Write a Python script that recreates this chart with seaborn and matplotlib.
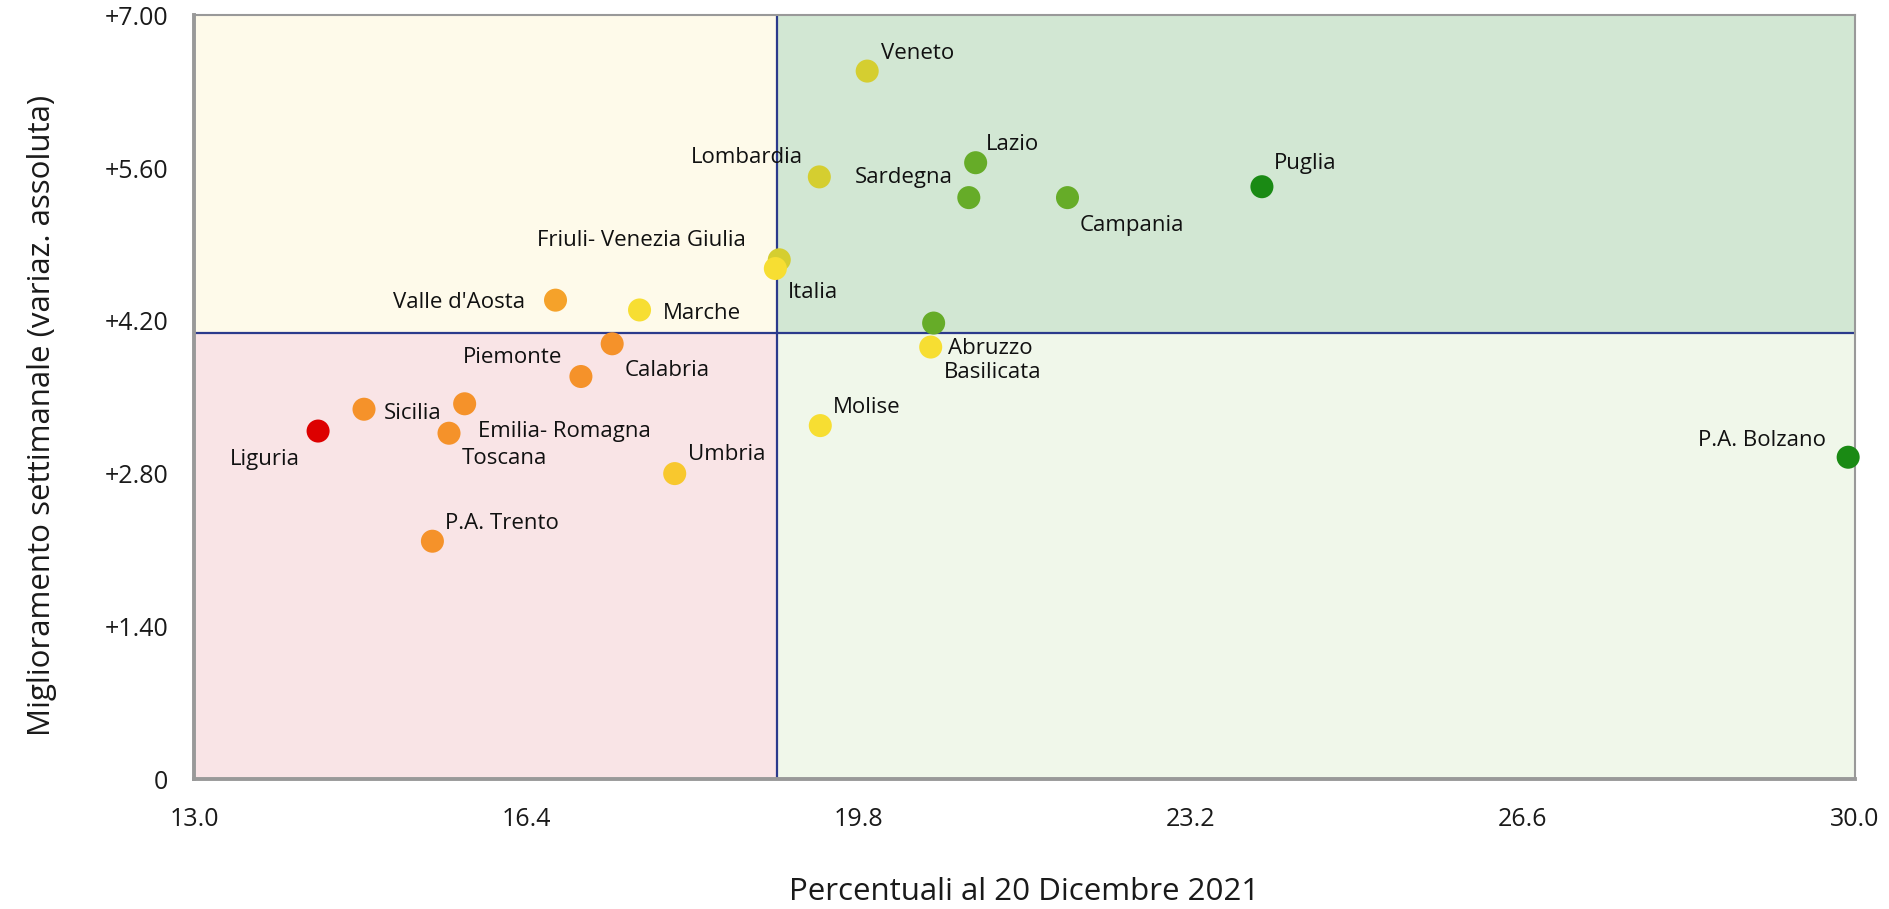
import numpy as np
import pandas as pd
import matplotlib
matplotlib.use('Agg')
import matplotlib.pyplot as plt
import seaborn as sns

# data
regions = ['Veneto', 'Lombardia', 'Lazio', 'Sardegna', 'Campania', 'Puglia',
           'Friuli- Venezia Giulia', 'Italia', "Valle d'Aosta", 'Marche',
           'Abruzzo', 'Basilicata', 'Calabria', 'Piemonte', 'Sicilia',
           'Emilia- Romagna', 'Toscana', 'Liguria', 'Umbria', 'P.A. Trento',
           'Molise', 'P.A. Bolzano']
pct = [19.89, 19.40, 21.00, 20.93, 21.94, 23.93,
       18.99, 18.95, 16.70, 17.56,
       20.57, 20.54, 17.28, 16.96, 14.74,
       15.77, 15.61, 14.27, 17.92, 15.44,
       19.41, 29.93]
improve = [6.49, 5.52, 5.65, 5.33, 5.33, 5.43,
           4.76, 4.68, 4.39, 4.30,
           4.18, 3.96, 3.99, 3.69, 3.39,
           3.44, 3.17, 3.19, 2.80, 2.18,
           3.24, 2.95]
colors = ['#D5CE30', '#D5CE30', '#66AC28', '#66AC28', '#66AC28', '#1A8A14',
          '#D5CE30', '#F7DE32', '#F5A22A', '#F7DE32',
          '#66AC28', '#F7DE32', '#F5922A', '#F5922A', '#F5922A',
          '#F5922A', '#F5922A', '#DD0000', '#F8C82E', '#F5922A',
          '#F7DE32', '#1A8A14']
# label offsets in pixels and alignment
offsets = [(14, 18, 'left'), (-16, 19, 'right'), (10, 18, 'left'), (-16, 20, 'right'),
           (12, -28, 'left'), (12, 23, 'left'), (-33, 19, 'right'), (13, -24, 'left'),
           (-30, -2, 'right'), (23, -4, 'left'), (14, -25, 'left'), (13, -25, 'left'),
           (12, -27, 'left'), (-19, 19, 'right'), (20, -4, 'left'), (13, -28, 'left'),
           (13, -25, 'left'), (-18, -28, 'right'), (13, 19, 'left'), (13, 18, 'left'),
           (13, 18, 'left'), (-22, 17, 'right')]

x_split = 18.97
y_split = 4.09
xticks = [13.0, 16.4, 19.8, 23.2, 26.6, 30.0]
yticks = [0, 1.4, 2.8, 4.2, 5.6, 7.0]
ytick_labels = ['0', '+1.40', '+2.80', '+4.20', '+5.60', '+7.00']

df = pd.DataFrame({'region': regions, 'pct': pct, 'improve': improve})

sns.set_style('white')
plt.rcParams['font.family'] = ['Open Sans', 'DejaVu Sans']

fig, ax = plt.subplots(figsize=(18.89, 9.09), dpi=100)
fig.subplots_adjust(left=0.1027, right=0.982, top=0.983, bottom=0.143)

ax.set_xlim(13, 30)
ax.set_ylim(0, 7)

# quadrant backgrounds
ax.fill_between([13, x_split], 0, y_split, color='#F9E4E6', zorder=0, lw=0)
ax.fill_between([13, x_split], y_split, 7, color='#FEFAEA', zorder=0, lw=0)
ax.fill_between([x_split, 30], y_split, 7, color='#D2E7D3', zorder=0, lw=0)
ax.fill_between([x_split, 30], 0, y_split, color='#F0F7EA', zorder=0, lw=0)
ax.axvline(x_split, color='#2B3A8C', lw=1.6, zorder=1)
ax.axhline(y_split, color='#2B3A8C', lw=1.6, zorder=1)

sns.scatterplot(data=df, x='pct', y='improve', hue='region',
                palette=dict(zip(regions, colors)), s=275, linewidth=0,
                legend=False, ax=ax, zorder=3, clip_on=False)

for name, xv, yv, (dx, dy, ha) in zip(regions, pct, improve, offsets):
    ax.annotate(name, (xv, yv), xytext=(dx, dy), textcoords='offset pixels',
                ha=ha, va='center', fontsize=16, color='#111111', zorder=4)

ax.set_xticks(xticks)
ax.set_xticklabels([f'{t:.1f}' for t in xticks])
ax.set_yticks(yticks)
ax.set_yticklabels(ytick_labels)
ax.tick_params(axis='both', direction='out', length=11.5, width=1.5, color='#999999',
               labelsize=18, labelcolor='#1a1a1a')
ax.tick_params(axis='x', pad=9)
ax.tick_params(axis='y', pad=7)

for side in ['left', 'bottom']:
    ax.spines[side].set_color('#999999')
    ax.spines[side].set_linewidth(2.8)
for side in ['top', 'right']:
    ax.spines[side].set_color('#999999')
    ax.spines[side].set_linewidth(1.5)

ax.set_xlabel('Percentuali al 20 Dicembre 2021', fontsize=22.5, labelpad=32, color='#1a1a1a')
ax.set_ylabel('Miglioramento settimanale (variaz. assoluta)', fontsize=22.5,
              color='#1a1a1a')
ax.yaxis.set_label_coords(-0.0825, 0.476)

fig.savefig('out.png', dpi=100)
